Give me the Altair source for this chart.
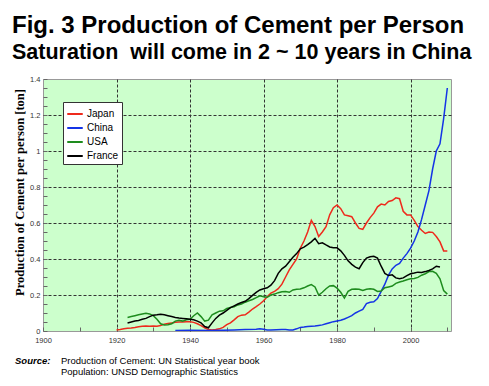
import altair as alt
import pandas as pd

countries = ["Japan", "China", "USA", "France"]
colors = ["#ee2a1c", "#1434e6", "#1e8c1e", "#000000"]

japan_years = list(range(1920, 2011))
japan_values = [0.005, 0.008, 0.012, 0.015, 0.017, 0.02, 0.024, 0.026, 0.028, 0.027,
                0.028, 0.027, 0.03, 0.038, 0.042, 0.045, 0.048, 0.05, 0.05, 0.051,
                0.051, 0.048, 0.04, 0.03, 0.018, 0.008, 0.006, 0.008, 0.012, 0.02,
                0.035, 0.045, 0.062, 0.08, 0.088, 0.09, 0.105, 0.122, 0.135, 0.15,
                0.168, 0.19, 0.21, 0.22, 0.235, 0.26, 0.3, 0.34, 0.37, 0.4,
                0.46, 0.5, 0.55, 0.615, 0.58, 0.525, 0.55, 0.58, 0.645, 0.685,
                0.70, 0.68, 0.645, 0.64, 0.635, 0.6, 0.57, 0.565, 0.6, 0.63,
                0.655, 0.69, 0.705, 0.7, 0.72, 0.725, 0.74, 0.735, 0.665, 0.645,
                0.645, 0.615, 0.58, 0.56, 0.542, 0.55, 0.548, 0.525, 0.495, 0.445,
                0.445]

china_years = [1936, 1940, 1945, 1949, 1952, 1955, 1958, 1959, 1960, 1961, 1962, 1965,
               1966, 1967, 1968] + list(range(1969, 2011))
china_values = [0.003, 0.004, 0.003, 0.004, 0.006, 0.008, 0.01, 0.012, 0.01, 0.006, 0.006, 0.008,
                0.008, 0.006, 0.006,
                0.012, 0.02, 0.022, 0.025, 0.027, 0.028, 0.031, 0.034, 0.04, 0.046, 0.052,
                0.056, 0.06, 0.067, 0.076, 0.085, 0.1, 0.11, 0.12, 0.152, 0.16,
                0.162, 0.18, 0.22, 0.26, 0.31, 0.345, 0.365, 0.375, 0.405, 0.43,
                0.46, 0.5, 0.55, 0.62, 0.7, 0.78, 0.9, 1.0, 1.04, 1.18,
                1.35]

usa_years = list(range(1923, 2011))
usa_values = [0.075, 0.08, 0.085, 0.09, 0.095, 0.098, 0.095,
              0.085, 0.065, 0.04, 0.033, 0.035, 0.04, 0.055, 0.06, 0.055, 0.062,
              0.065, 0.085, 0.1, 0.08, 0.055, 0.06, 0.09, 0.1, 0.11, 0.112,
              0.125, 0.13, 0.135, 0.145, 0.15, 0.16, 0.168, 0.175, 0.185, 0.196,
              0.19, 0.187, 0.2, 0.205, 0.213, 0.218, 0.22, 0.215, 0.228, 0.232,
              0.233, 0.24, 0.25, 0.258, 0.245, 0.2, 0.215, 0.235, 0.25, 0.252,
              0.238, 0.215, 0.183, 0.22, 0.232, 0.233, 0.232, 0.225, 0.232, 0.235,
              0.232, 0.22, 0.222, 0.24, 0.245, 0.25, 0.265, 0.272, 0.278, 0.285,
              0.29, 0.292, 0.298, 0.31, 0.318, 0.33, 0.332, 0.32, 0.29, 0.225,
              0.205]

france_years = list(range(1923, 2009))
france_values = [0.045, 0.05, 0.055, 0.058, 0.065, 0.07, 0.08,
                 0.088, 0.09, 0.093, 0.09, 0.085, 0.08, 0.075, 0.072, 0.07, 0.068,
                 0.065, 0.062, 0.055, 0.045, 0.025, 0.018, 0.045, 0.07, 0.088, 0.1,
                 0.115, 0.13, 0.14, 0.15, 0.158, 0.165, 0.18, 0.198, 0.215, 0.228,
                 0.235, 0.24, 0.255, 0.28, 0.32, 0.345, 0.36, 0.385, 0.41, 0.43,
                 0.457, 0.466, 0.48, 0.495, 0.515, 0.485, 0.49, 0.478, 0.467, 0.462,
                 0.462, 0.445, 0.42, 0.39, 0.37, 0.355, 0.346, 0.38, 0.405, 0.412,
                 0.415, 0.405, 0.36, 0.32, 0.308, 0.312, 0.295, 0.29, 0.295, 0.308,
                 0.318, 0.322, 0.327, 0.325, 0.33, 0.336, 0.345, 0.36, 0.355]

title_text = "Fig. 3 Production of Cement per Person"
subtitle_text = "Saturation \u00a0will come in 2 ~ 10 years in China"
y_title = "Production of Cement per person [ton]"
source_head = "Source:"
source_lines = ["Production of Cement: UN Statistical year book",
                "Population: UNSD Demographic Statistics"]

x_ticks = list(range(1900, 2011, 10))
y_ticks = [round(i * 0.05, 2) for i in range(29)]

rows = []
for name, yrs, vals in [("Japan", japan_years, japan_values),
                        ("China", china_years, china_values),
                        ("USA", usa_years, usa_values),
                        ("France", france_years, france_values)]:
    for yr, v in zip(yrs, vals):
        rows.append({"country": name, "year": yr, "value": v})
df = pd.DataFrame(rows)

FONT = "Liberation Sans"
major_y = "abs(datum.value*5 - round(datum.value*5)) < 0.001"

lines = alt.Chart(df).mark_line(strokeWidth=1.5, clip=True).encode(
    x=alt.X("year:Q", title=None,
            scale=alt.Scale(domain=[1900, 2011], nice=False, zero=False),
            axis=alt.Axis(values=x_ticks,
                          labelExpr="datum.value % 20 == 0 ? format(datum.value, 'd') : ''",
                          grid=True, gridDash=[3, 2], gridColor="#333333", gridWidth=1,
                          gridOpacity={"condition": {"test": "datum.value % 20 == 0 && datum.value > 1900", "value": 1}, "value": 0},
                          domain=False, offset=-4, tickSize=4, tickColor="#666666",
                          labelFontSize=7.5, labelFont=FONT, labelColor="#333333",
                          labelPadding=5, labelFlush=False)),
    y=alt.Y("value:Q", title=y_title,
            scale=alt.Scale(domain=[0, 1.4], nice=False),
            axis=alt.Axis(values=y_ticks,
                          labelExpr=major_y + " ? format(datum.value, '.1~f') : ''",
                          grid=True, gridDash=[3, 2], gridColor="#333333", gridWidth=1,
                          gridOpacity={"condition": {"test": major_y + " && datum.value > 0.01 && datum.value < 1.39", "value": 1}, "value": 0},
                          domain=False, offset=-4, tickSize=4, tickColor="#666666",
                          labelFontSize=7.5, labelFont=FONT, labelColor="#333333",
                          labelPadding=3, labelFlush=False,
                          titleFont="Liberation Serif", titleFontSize=12.5,
                          titleFontWeight="bold", titleColor="black",
                          titleX=-28, titleY=113, titleBaseline="middle", titleAngle=270)),
    color=alt.Color("country:N",
                    scale=alt.Scale(domain=countries, range=colors),
                    sort=countries,
                    legend=alt.Legend(title=None, orient="none", legendX=20, legendY=23,
                                      fillColor="white", strokeColor="#333333",
                                      padding=3, symbolType="stroke", symbolSize=240,
                                      symbolStrokeWidth=2, labelFontSize=10,
                                      labelFont=FONT, labelColor="black",
                                      rowPadding=0, labelOffset=3, cornerRadius=0)),
    order=alt.Order("year:Q"),
)

src_df = pd.DataFrame({"label": [source_head]})
src_head = alt.Chart(src_df).mark_text(
    font=FONT, fontSize=9.5, fontWeight="bold", fontStyle="italic",
    align="left", baseline="alphabetic", color="black"
).encode(text="label:N", x=alt.value(-28), y=alt.value(285))

src1 = alt.Chart(pd.DataFrame({"label": [source_lines[0]]})).mark_text(
    font=FONT, fontSize=9.5, align="left", baseline="alphabetic", color="black"
).encode(text="label:N", x=alt.value(18), y=alt.value(285))

src2 = alt.Chart(pd.DataFrame({"label": [source_lines[1]]})).mark_text(
    font=FONT, fontSize=9.5, align="left", baseline="alphabetic", color="black"
).encode(text="label:N", x=alt.value(18), y=alt.value(296))

chart = alt.layer(lines, src_head, src1, src2).properties(
    width=408, height=252,
    title=alt.TitleParams(text=title_text, subtitle=subtitle_text,
                          anchor="start", frame="group", dx=-31,
                          font=FONT, fontSize=24, fontWeight="bold", color="black",
                          subtitleFont=FONT, subtitleFontSize=21.5,
                          subtitleFontWeight="bold", subtitleColor="black",
                          offset=12, subtitlePadding=4),
    padding={"left": 35, "top": 71, "right": 30, "bottom": 47},
    autosize=alt.AutoSizeParams(type="none"),
).configure_view(fill="#ccffcc", stroke="#999999", strokeWidth=1)

chart.save("out.html", embed_options={"renderer": "svg", "actions": False})
